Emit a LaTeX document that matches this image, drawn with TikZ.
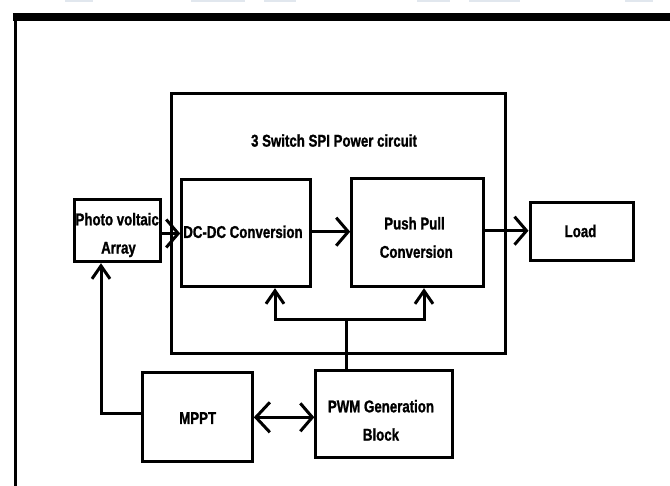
\documentclass[tikz,border=0pt]{standalone}
\usepackage{fontspec}
\newfontfamily\diagfont[FakeStretch=0.78,BoldFeatures={FakeBold=1.2}]{Liberation Sans}
\usetikzlibrary{arrows.meta}
\definecolor{faint}{RGB}{225,231,238}
\begin{document}
\begin{tikzpicture}[x=1pt,y=-1pt,
  box/.style={draw=black,line width=3pt,rectangle,inner sep=0pt},
  lbl/.style={font=\diagfont\bfseries\fontsize{17}{20}\selectfont,inner sep=0pt,text height=12.2pt,text depth=0pt},
  conn/.style={line width=3pt},
  harrow/.style={conn,-{Straight Barb[length=12pt,width=28pt]}},
  varrow/.style={conn,-{Straight Barb[length=13pt,width=18pt]}},
  darrow/.style={conn,{Straight Barb[length=14pt,width=30pt]}-{Straight Barb[length=12pt,width=28pt]}},
]
\useasboundingbox (0,0) rectangle (670,486);
% faint fragments at the top edge
\foreach \a/\b in {65/93,191/245,264/296,417/450,469/520,625/653}
  \fill[faint] (\a,0) rectangle (\b,1.8);
% outer frame
\draw[line width=3pt] (15.6,490) -- (15.6,17);
\draw[line width=7.4pt] (12.8,17) -- (675,17);
% boxes
\node[box,minimum width=334pt,minimum height=260.4pt] (spi) at (338,223.5) {};
\node[box,minimum width=85.7pt,minimum height=62.4pt] (pv) at (117.2,230.5) {};
\node[box,minimum width=129pt,minimum height=106.7pt] (dcdc) at (246.2,233.3) {};
\node[box,minimum width=131.6pt,minimum height=108.4pt] (pp) at (417.5,232.5) {};
\node[box,minimum width=103pt,minimum height=58.3pt] (load) at (581.5,231.8) {};
\node[box,minimum width=109.6pt,minimum height=89.4pt] (mppt) at (197.5,417) {};
\node[box,minimum width=136.2pt,minimum height=87.4pt] (pwm) at (383.9,414) {};
% labels
\node[lbl] (spit) at (334,140.5) {3 Switch SPI Power circuit};
\node[lbl] (pvt1) at (117.2,219.2) {Photo voltaic};
\node[lbl] (pvt2) at (118.5,247.5) {Array};
\node[lbl] (dct) at (243,231.8) {DC-DC Conversion};
\node[lbl] (ppt1) at (414.5,223.3) {Push Pull};
\node[lbl] (ppt2) at (416.3,251.7) {Conversion};
\node[lbl] (loadt) at (580.5,231) {Load};
\node[lbl] (mpptt) at (197.7,417.8) {MPPT};
\node[lbl] (pwmt1) at (381,406.2) {PWM Generation};
\node[lbl] (pwmt2) at (381,434.5) {Block};
% connectors
\draw[harrow] (pv.east |- 0,233.5) -- (dcdc.west |- 0,233.5);
\draw[harrow] (dcdc.east |- 0,231.7) -- (pp.west |- 0,231.7);
\draw[harrow] (pp.east |- 0,230.7) -- (load.west |- 0,230.7);
\draw[varrow] (mppt.west |- 0,413.3) -| (pv.south -| 101,0);
\draw[conn] (pwm.north -| 346,0) -- (346,319.3) coordinate (br);
\draw[varrow] (br) -| (dcdc.south -| 275,0);
\draw[varrow] (br) -| (pp.south -| 424,0);
\draw[darrow] (mppt.east |- 0,417.3) -- (pwm.west |- 0,417.3);
\end{tikzpicture}
\end{document}
